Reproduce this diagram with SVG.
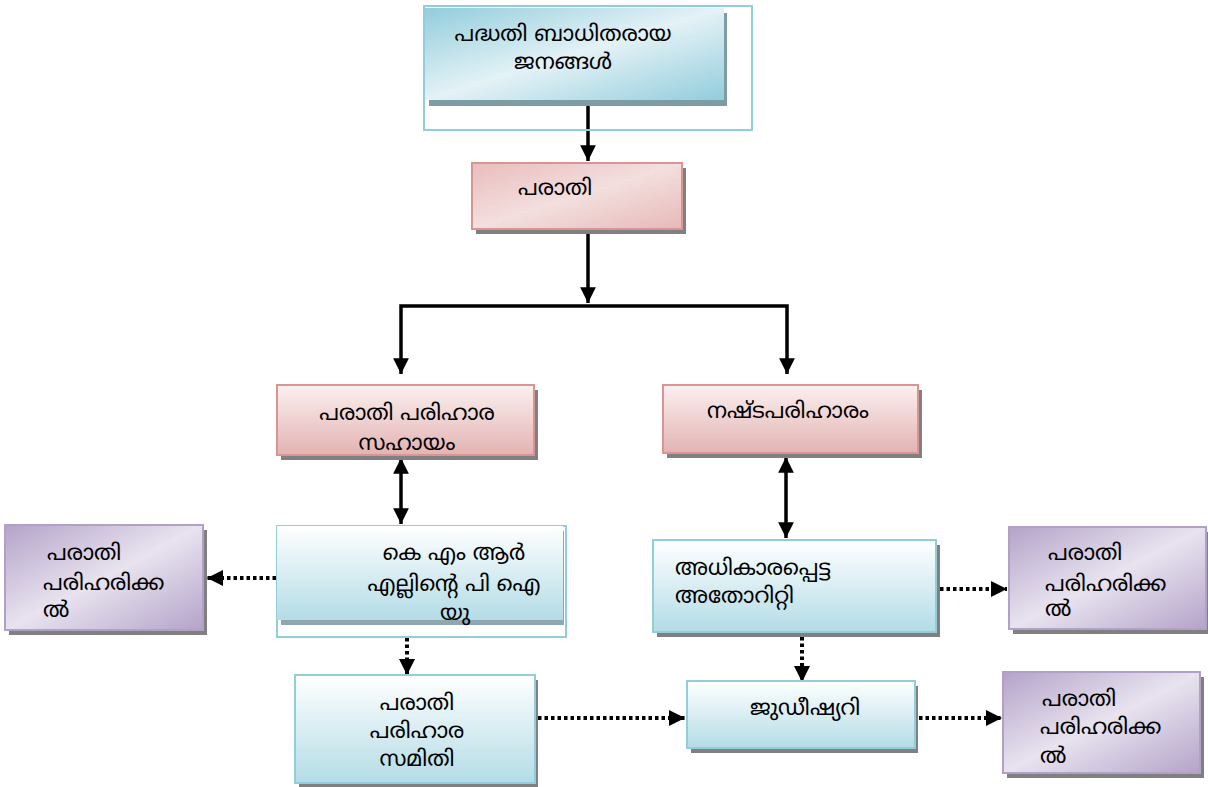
<svg xmlns="http://www.w3.org/2000/svg" width="1208" height="787" viewBox="0 0 1208 787">
<defs>
<linearGradient id="gBlueDiag" x1="0" y1="0" x2="1" y2="1">
<stop offset="0" stop-color="#92cddc"/><stop offset="0.5" stop-color="#e4f2f6"/><stop offset="1" stop-color="#92cddc"/>
</linearGradient>
<linearGradient id="gBlueV" x1="0" y1="0" x2="0" y2="1">
<stop offset="0" stop-color="#ffffff"/><stop offset="1" stop-color="#b3dce6"/>
</linearGradient>
<linearGradient id="gPinkDiag" x1="0" y1="0" x2="1" y2="1">
<stop offset="0" stop-color="#e8bdbc"/><stop offset="0.5" stop-color="#f3dfde"/><stop offset="1" stop-color="#e6b9b8"/>
</linearGradient>
<linearGradient id="gPinkV" x1="0" y1="0" x2="0" y2="1">
<stop offset="0" stop-color="#fbf0f0"/><stop offset="1" stop-color="#e3b3b2"/>
</linearGradient>
<linearGradient id="gPurple" x1="0" y1="0" x2="1" y2="1">
<stop offset="0" stop-color="#b4a3c9"/><stop offset="0.5" stop-color="#e8e3ef"/><stop offset="1" stop-color="#b4a3c9"/>
</linearGradient>
<marker id="ah" viewBox="0 0 10 10" refX="10" refY="5" markerWidth="4.5" markerHeight="4.5" orient="auto-start-reverse" markerUnits="strokeWidth">
<path d="M0,0 L10,5 L0,10 z" fill="#000"/>
</marker>
<marker id="ahd" viewBox="0 0 10 10" refX="10" refY="5" markerWidth="4" markerHeight="4" orient="auto-start-reverse" markerUnits="strokeWidth">
<path d="M0,0 L10,5 L0,10 z" fill="#000"/>
</marker>
</defs>
<style>
text{font-family:"Noto Sans Malayalam","Kartika","Noto Sans","DejaVu Sans",sans-serif;font-size:22px;fill:#000;}
.shadow{fill:#808080;}
.blue{stroke:#92cddc;stroke-width:2;}
.pink{stroke:#d99594;stroke-width:2;}
.purple{stroke:#b2a1c7;stroke-width:2;}
.solid{stroke:#000;stroke-width:3.5;fill:none;}
.dot{stroke:#000;stroke-width:4;fill:none;stroke-dasharray:3.5 3;}
.c{text-anchor:middle;}
</style>
<rect width="1208" height="787" fill="#fff"/>

<g id="connectors">
<line class="solid" x1="588" y1="100" x2="588" y2="161" marker-end="url(#ah)"/>
<line class="solid" x1="588" y1="230" x2="588" y2="303" marker-end="url(#ah)"/>
<polyline class="solid" points="401,374 401,306 787,306 787,374" marker-start="url(#ah)" marker-end="url(#ah)"/>
<line class="solid" x1="401" y1="458" x2="401" y2="524" marker-start="url(#ah)" marker-end="url(#ah)"/>
<line class="solid" x1="786" y1="457" x2="786" y2="538" marker-start="url(#ah)" marker-end="url(#ah)"/>
<line class="dot" x1="276" y1="578" x2="207" y2="578" marker-end="url(#ahd)"/>
<line class="dot" x1="407" y1="638" x2="407" y2="675" marker-end="url(#ahd)"/>
<line class="dot" x1="538" y1="718" x2="685" y2="718" marker-end="url(#ahd)"/>
<line class="dot" x1="940" y1="589" x2="1007" y2="589" marker-end="url(#ahd)"/>
<line class="dot" x1="802" y1="637" x2="802" y2="682" marker-end="url(#ahd)"/>
<line class="dot" x1="919" y1="718" x2="1002" y2="718" marker-end="url(#ahd)"/>
</g>

<g id="node-affected">
<rect x="424" y="6" width="328" height="124" fill="none" class="blue"/>
<rect x="429" y="13" width="298" height="93" style="fill:#7e9ca3"/>
<rect x="425" y="8" width="299" height="92" fill="url(#gBlueDiag)"/>
<text x="563" y="41" class="c">പദ്ധതി ബാധിതരായ</text>
<text x="563" y="69" class="c">ജനങ്ങൾ</text>
</g>

<g id="node-complaint">
<rect class="shadow" x="476" y="168" width="210" height="66"/>
<rect x="472" y="163" width="210" height="66" fill="url(#gPinkDiag)" class="pink"/>
<text x="518" y="195">പരാതി</text>
</g>

<g id="node-grievance-aid">
<rect class="shadow" x="281" y="390" width="257" height="70"/>
<rect x="277" y="385" width="257" height="70" fill="url(#gPinkV)" class="pink"/>
<text x="407" y="420" class="c">പരാതി പരിഹാര</text>
<text x="407" y="450" class="c">സഹായം</text>
</g>

<g id="node-compensation">
<rect class="shadow" x="667" y="390" width="255" height="68"/>
<rect x="663" y="385" width="255" height="68" fill="url(#gPinkV)" class="pink"/>
<text x="707" y="418">നഷ്ടപരിഹാരം</text>
</g>

<g id="node-resolve-left">
<rect class="shadow" x="9" y="530" width="198" height="105"/>
<rect x="5" y="525" width="198" height="105" fill="url(#gPurple)" class="purple"/>
<text x="47" y="560">പരാതി</text>
<text x="43" y="590">പരിഹരിക്ക</text>
<text x="43" y="617">ൽ</text>
</g>

<g id="node-kmrl-piu">
<rect x="277" y="526" width="289" height="111" fill="none" class="blue"/>
<rect x="281" y="531" width="283" height="94" style="fill:#8fa8ad"/>
<rect x="277" y="526" width="286" height="94" fill="url(#gBlueV)"/>
<text x="454" y="560" class="c">കെ എം ആർ</text>
<text x="454" y="591" class="c">എല്ലിന്റെ പി ഐ</text>
<text x="455" y="620" class="c">യു</text>
</g>

<g id="node-authority">
<rect class="shadow" x="657" y="545" width="283" height="92"/>
<rect x="653" y="540" width="283" height="92" fill="url(#gBlueV)" class="blue"/>
<text x="675" y="575">അധികാരപ്പെട്ട</text>
<text x="675" y="603">അതോറിറ്റി</text>
</g>

<g id="node-resolve-right1">
<rect class="shadow" x="1013" y="532" width="197" height="102"/>
<rect x="1009" y="527" width="197" height="102" fill="url(#gPurple)" class="purple"/>
<text x="1048" y="560">പരാതി</text>
<text x="1045" y="591">പരിഹരിക്ക</text>
<text x="1045" y="616">ൽ</text>
</g>

<g id="node-committee">
<rect class="shadow" x="299" y="680" width="239" height="107"/>
<rect x="295" y="675" width="240" height="108" fill="url(#gBlueV)" class="blue"/>
<text x="417" y="710" class="c">പരാതി</text>
<text x="417" y="738" class="c">പരിഹാര</text>
<text x="417" y="766" class="c">സമിതി</text>
</g>

<g id="node-judiciary">
<rect class="shadow" x="691" y="686" width="227" height="67"/>
<rect x="687" y="681" width="228" height="67" fill="url(#gBlueV)" class="blue"/>
<text x="750" y="715">ജുഡീഷ്യറി</text>
</g>

<g id="node-resolve-right2">
<rect class="shadow" x="1007" y="677" width="197" height="101"/>
<rect x="1003" y="672" width="197" height="101" fill="url(#gPurple)" class="purple"/>
<text x="1042" y="706">പരാതി</text>
<text x="1040" y="734">പരിഹരിക്ക</text>
<text x="1040" y="763">ൽ</text>
</g>
</svg>
